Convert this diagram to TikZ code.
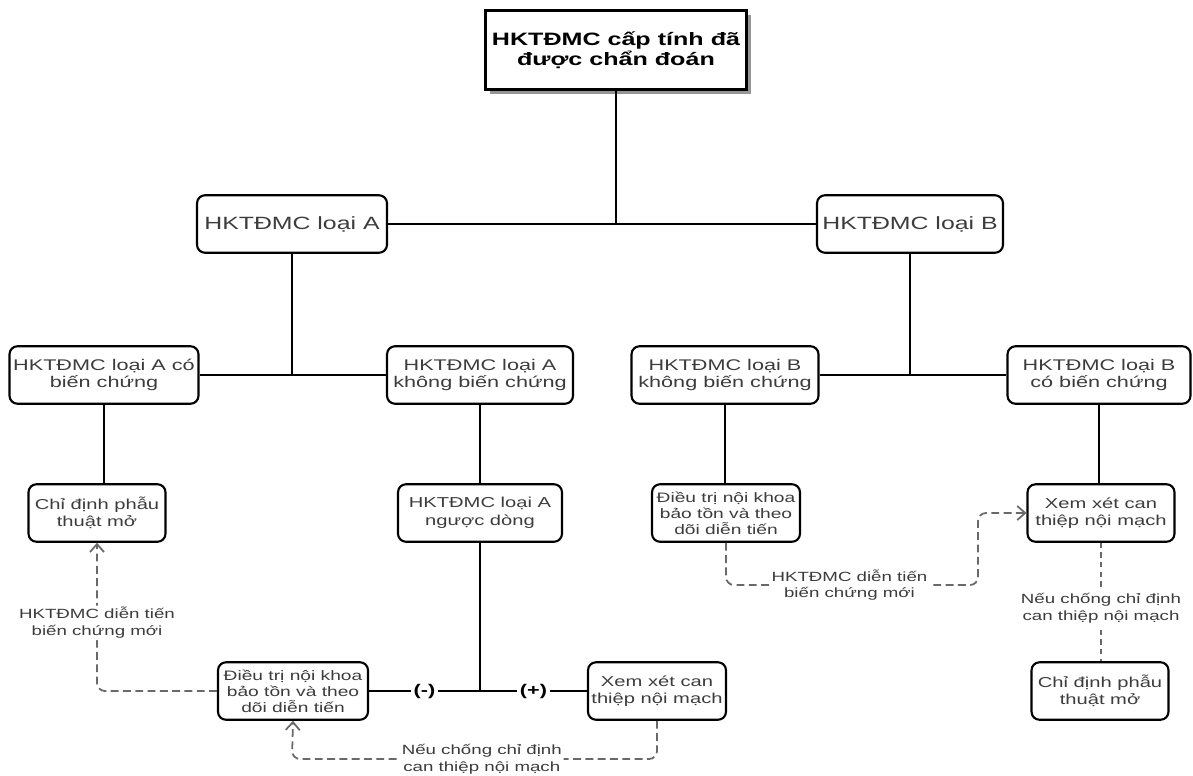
\documentclass[tikz,border=0pt]{standalone}
\usepackage{fontspec}
\setmainfont{Liberation Sans}[FakeStretch=1.4]
\usetikzlibrary{arrows.meta,shadows}
\definecolor{textgrey}{RGB}{60,60,60}
\definecolor{dashgrey}{RGB}{105,105,105}
\definecolor{shadowgrey}{RGB}{150,150,150}

\begin{document}
\begin{tikzpicture}[x=0.02cm,y=-0.02cm,
		box/.style={draw,line width=1.2pt,rounded corners=0.16cm,align=center,inner sep=1pt,
			minimum height=1.15cm,text=textgrey,font=\fontsize{8.2pt}{10pt}\selectfont},
		typebox/.style={box,font=\fontsize{10.1pt}{11pt}\selectfont},
		subbox/.style={box,font=\fontsize{8.8pt}{10.1pt}\selectfont},
		carebox/.style={box,font=\fontsize{7.8pt}{9.2pt}\selectfont},
		rootbox/.style={draw,line width=1.6pt,align=center,fill=white,inner sep=1pt,
			minimum width=5.22cm,minimum height=1.58cm,font=\bfseries\fontsize{10.2pt}{11.4pt}\selectfont,
			drop shadow={shadow xshift=0.09cm,shadow yshift=-0.09cm,fill=shadowgrey,opacity=1}},
		link/.style={line width=0.75pt},
		followup/.style={dashgrey,line width=1pt,dash pattern=on 4.5pt off 2.5pt,rounded corners=0.16cm,
			-{Straight Barb[length=4.5pt,width=8pt,line width=1pt]}},
		lbl/.style={fill=white,inner sep=1pt,align=center,text=textgrey,font=\fontsize{7.6pt}{9.5pt}\selectfont},
		sign/.style={fill=white,inner sep=1.5pt,font=\bfseries\fontsize{8.8pt}{10pt}\selectfont}]
	\useasboundingbox (0,0) rectangle (1193,775);
	% root and the two types
	\node[rootbox] (root) at (616,50) {HKTĐMC cấp tính đã\\được chẩn đoán};
	\node[typebox,minimum width=3.8cm] (typeA) at (292,224) {HKTĐMC loại A};
	\node[typebox,minimum width=3.72cm] (typeB) at (910,224) {HKTĐMC loại B};
	% second level
	\node[subbox,minimum width=3.78cm] (aCompl) at (104,375) {HKTĐMC loại A có\\biến chứng};
	\node[subbox,minimum width=3.72cm] (aPlain) at (480,375) {HKTĐMC loại A\\không biến chứng};
	\node[subbox,minimum width=3.74cm] (bPlain) at (725,375) {HKTĐMC loại B\\không biến chứng};
	\node[subbox,minimum width=3.66cm] (bCompl) at (1099,375) {HKTĐMC loại B\\có biến chứng};
	% third level
	\node[box,minimum width=2.74cm] (aSurgery) at (97,513) {Chỉ định phẫu\\thuật mở};
	\node[box,minimum width=3.28cm] (aRetro) at (480,513) {HKTĐMC loại A\\ngược dòng};
	\node[carebox,minimum width=2.96cm] (bMedical) at (726,513) {Điều trị nội khoa\\bảo tồn và theo\\dõi diễn tiến};
	\node[box,minimum width=2.94cm] (bEndo) at (1101,513) {Xem xét can\\thiệp nội mạch};
	% bottom row
	\node[carebox,minimum width=3.0cm] (aMedical) at (293,691) {Điều trị nội khoa\\bảo tồn và theo\\dõi diễn tiến};
	\node[box,minimum width=2.76cm] (aEndo) at (657,691) {Xem xét can\\thiệp nội mạch};
	\node[box,minimum width=2.74cm] (bSurgery) at (1100,691) {Chỉ định phẫu\\thuật mở};
	% tree lines
	\draw[link] (typeA.east) -- (typeB.west);
	\draw[link] (root.south) -- (root.south |- typeA.east);
	\draw[link] (aCompl.east) -- (aPlain.west);
	\draw[link] (typeA.south) -- (typeA.south |- aCompl.east);
	\draw[link] (bPlain.east) -- (bCompl.west);
	\draw[link] (typeB.south) -- (typeB.south |- bPlain.east);
	\draw[link] (aCompl.south) -- (aCompl.south |- aSurgery.north);
	\draw[link] (aPlain.south) -- (aRetro.north);
	\draw[link] (bPlain.south) -- (bPlain.south |- bMedical.north);
	\draw[link] (bCompl.south) -- (bCompl.south |- bEndo.north);
	% split below retrograde type A
	\coordinate (splitA) at (aRetro.south |- aMedical.east);
	\draw[line width=1pt] (aRetro.south) -- (splitA);
	\draw[link] (aMedical.east) -- node[sign]{(-)} (splitA) -- node[sign]{(+)} (aEndo.west);
	% dashed follow-up paths
	\coordinate (lowBend) at (292,759);
	\coordinate (rightBend) at (978,585);
	\draw[followup] (aMedical.west) -- (aSurgery.south |- aMedical.west)
		-- node[lbl,pos=0.46]{HKTĐMC diễn tiến\\biến chứng mới} (aSurgery.south);
	\draw[followup] (aEndo.south) |- node[lbl,pos=0.74]{Nếu chống chỉ định\\can thiệp nội mạch} (lowBend)
		-- (aMedical.south);
	\draw[followup] (bMedical.south) |- node[lbl,pos=0.745]{HKTĐMC diễn tiến\\biến chứng mới} (rightBend)
		|- (bEndo.west);
	\draw[dashgrey,line width=0.8pt,dash pattern=on 3pt off 2.5pt] (bEndo.south)
		-- node[lbl,pos=0.55]{Nếu chống chỉ định\\can thiệp nội mạch} (bEndo.south |- bSurgery.north);
\end{tikzpicture}
\end{document}
